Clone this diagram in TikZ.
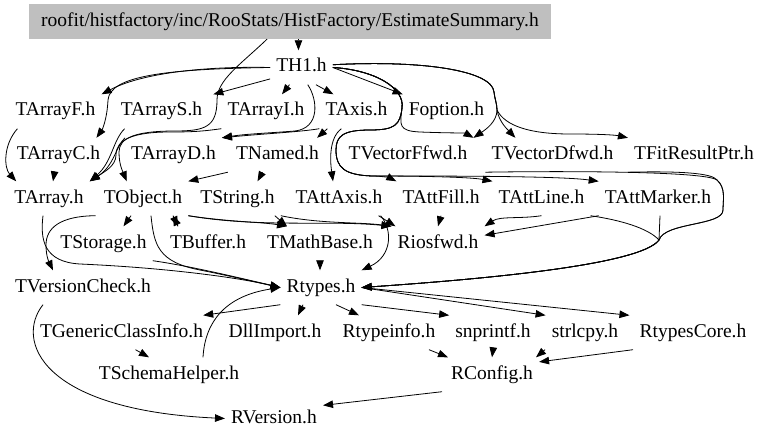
\documentclass[tikz,border=0pt]{standalone}
\usepackage{fontspec}
\setmainfont{Liberation Serif}
\usetikzlibrary{arrows.meta}
\definecolor{boxgray}{RGB}{191,191,191}
\tikzset{
  hdr/.style={anchor=base, inner xsep=6pt, inner ysep=0pt, text height=14pt, text depth=5pt,
    minimum height=34pt, font=\fontsize{19.5}{23}\selectfont},
  dep/.style={-{Triangle[length=10pt,width=7.5pt]}, line width=0.8pt},
}
\begin{document}
\begin{tikzpicture}[x=1pt, y=-1pt]
\useasboundingbox (0,0) rectangle (768,441);
\node[fill=boxgray, minimum width=522pt, minimum height=35pt, inner sep=0pt, font=\fontsize{19.5}{23}\selectfont] (root) at (290,21.5) {roofit/histfactory/inc/RooStats/HistFactory/EstimateSummary.h};
\node[hdr] (th1) at (301.5,72) {TH1.h};
\foreach \n/\x/\t in {tarrayf/55.5/TArrayF.h, tarrays/161.5/TArrayS.h, tarrayi/266/TArrayI.h, taxis/356.5/TAxis.h, foption/446.5/Foption.h}
  \node[hdr] (\n) at (\x,116) {\t};
\foreach \n/\x/\t in {tarrayc/58.5/TArrayC.h, tarrayd/173.5/TArrayD.h, tnamed/277.5/TNamed.h, tvectorffwd/408/TVectorFfwd.h, tvectordfwd/552.5/TVectorDfwd.h, tfitresultptr/694/TFitResultPtr.h}
  \node[hdr] (\n) at (\x,159.5) {\t};
\foreach \n/\x/\t in {tarray/49/TArray.h, tobject/143/TObject.h, tstring/237.5/TString.h, tattaxis/339/TAttAxis.h, tattfill/441/TAttFill.h, tattline/541.5/TAttLine.h, tattmarker/658/TAttMarker.h}
  \node[hdr] (\n) at (\x,203) {\t};
\foreach \n/\x/\t in {tstorage/103.5/TStorage.h, tbuffer/208/TBuffer.h, tmathbase/320/TMathBase.h, riosfwd/438/Riosfwd.h}
  \node[hdr] (\n) at (\x,248) {\t};
\node[hdr] (tversioncheck) at (83,292) {TVersionCheck.h};
\node[hdr] (rtypes) at (321,292) {Rtypes.h};
\foreach \n/\x/\t in {tgenericclassinfo/121.5/TGenericClassInfo.h, dllimport/275/DllImport.h, rtypeinfo/389/Rtypeinfo.h, snprintf/493/snprintf.h, strlcpy/585/strlcpy.h, rtypescore/693/RtypesCore.h}
  \node[hdr] (\n) at (\x,337) {\t};
\node[hdr] (tschemahelper) at (169,379) {TSchemaHelper.h};
\node[hdr] (rconfig) at (492,379) {RConfig.h};
\node[hdr] (rversion) at (274,423) {RVersion.h};

\draw[dep] (root.south -| th1.100) -- (th1.100);
\draw[dep] ([xshift=-23pt]root.south) .. controls (240,65) and (217,80) .. (217,100) .. controls (217,127) and (205,131) .. (175,131) .. controls (135,131) and (119,138) .. (119,152) .. controls (119,165) and (123,172) .. ([xshift=29pt]tobject.north west);

\draw[dep] (th1.west) .. controls (200,66) and (140,74) .. (tarrayf.north east);
\draw[dep] (th1.west) .. controls (165,69) and (110,76) .. (108,100) .. controls (107,120) and (102,130) .. ([xshift=-10pt]tarrayc.north east);
\draw[dep] (th1.200) -- ([xshift=5pt]tarrays.north east);
\draw[dep] (th1.235) -- ([xshift=16pt]tarrayi.north);
\draw[dep] (th1.310) -- ([xshift=14pt]taxis.north west);
\draw[dep] (th1.east) -- (foption.north west);
\draw[dep] (th1.290) .. controls (318,100) and (320,128) .. (295,131) .. controls (270,133) and (245,134) .. (tarrayd.north east);
\draw[dep] (th1.east) .. controls (375,70) and (405,88) .. (402,108) .. controls (400,125) and (398,131) .. (420,132) .. controls (445,133) and (465,133) .. (tvectorffwd.north east);
\draw[dep] (th1.east) .. controls (375,70) and (405,88) .. (402,108) .. controls (400,125) and (395,130) .. (370,130) .. controls (343,130) and (336,136) .. (336,150) .. controls (336,168) and (345,175) .. (372,176) .. controls (382,176) and (390,178) .. (tattfill.north west);
\draw[dep] (th1.east) .. controls (375,70) and (405,88) .. (402,108) .. controls (400,125) and (395,130) .. (370,130) .. controls (343,130) and (336,136) .. (336,150) .. controls (336,168) and (345,175) .. (372,176) .. controls (420,176) and (470,177) .. (tattline.north west);
\draw[dep] (th1.east) .. controls (375,70) and (405,88) .. (402,108) .. controls (400,125) and (395,130) .. (370,130) .. controls (343,130) and (336,136) .. (336,150) .. controls (336,168) and (345,175) .. (372,176) .. controls (450,176) and (560,176) .. (tattmarker.north west);
\draw[dep] (th1.5) .. controls (420,60) and (492,70) .. (494,92) .. controls (495,100) and (497,104) .. (497,110) .. controls (497,122) and (485,130) .. (tvectorffwd.north east);
\draw[dep] (th1.5) .. controls (420,60) and (492,70) .. (494,92) .. controls (495,100) and (497,104) .. (497,110) .. controls (499,122) and (508,130) .. ([xshift=30pt]tvectordfwd.north west);
\draw[dep] (th1.5) .. controls (420,60) and (492,70) .. (494,92) .. controls (495,100) and (497,104) .. (497,110) .. controls (505,126) and (530,134) .. (570,134) .. controls (600,134) and (615,135) .. (tfitresultptr.north west);

\draw[dep] (taxis.south west) .. controls (300,132) and (260,134) .. (tarrayd.north east);
\draw[dep] ([xshift=8pt]taxis.south west) -- ([xshift=-8pt]tnamed.north east);
\draw[dep] ([xshift=22pt]taxis.south west) .. controls (329,138) and (330,160) .. ([xshift=-6pt]tattaxis.north);

\draw[dep] ([xshift=8pt]tarrayf.south west) .. controls (3,145) and (4,168) .. ([xshift=8pt]tarray.north west);
\draw[dep] ([xshift=-4pt]tarrayc.south) -- ([xshift=4pt]tarray.north);
\draw[dep] ([xshift=10pt]tarrays.south west) .. controls (113,140) and (112,162) .. (tarray.north east);
\draw[dep] (tarrayi.south west) .. controls (205,131) and (195,132) .. (170,132) .. controls (132,132) and (116,140) .. (116,155) .. controls (116,166) and (104,172) .. (tarray.north east);
\draw[dep] (tarrayd.north west) .. controls (116,146) and (114,166) .. (tarray.north east);

\draw[dep] ([xshift=-2pt]tnamed.south west) -- (tobject.north east);
\draw[dep] ([xshift=-15pt]tnamed.south) -- ([xshift=20pt]tstring.north);

\draw[dep] ([xshift=-2pt]tobject.south west) .. controls (60,216) and (46,228) .. (46,245) .. controls (46,258) and (50,264) .. ([xshift=-30pt]tversioncheck.north);
\draw[dep] ([xshift=-12pt]tobject.south) -- ([xshift=20pt]tstorage.north);
\draw[dep] ([xshift=30pt]tobject.south) -- ([xshift=-30pt]tbuffer.north);
\draw[dep] ([xshift=-30pt]tbuffer.north) -- ([xshift=30pt]tobject.south);
\draw[dep] ([xshift=8pt]tobject.south) .. controls (154,245) and (158,262) .. (200,270) .. controls (230,276) and (260,283) .. (rtypes.west);
\draw[dep] (tobject.south east) .. controls (230,222) and (262,222) .. ([xshift=26pt]tmathbase.north west);
\draw[dep] (tobject.south east) .. controls (260,228) and (330,220) .. (riosfwd.north west);
\draw[dep] ([xshift=-6pt]tarray.south) .. controls (40,240) and (44,262) .. (80,264) .. controls (170,268) and (240,278) .. (rtypes.west);
\draw[dep] (tstorage.south east) .. controls (190,266) and (240,278) .. (rtypes.west);

\draw[dep] ([xshift=-6pt]tstring.south east) -- ([xshift=26pt]tmathbase.north west);
\draw[dep] (tstring.south east) .. controls (320,224) and (360,222) .. (riosfwd.north west);
\draw[dep] ([xshift=-10pt]tattaxis.south east) -- ([xshift=4pt]riosfwd.north west);
\draw[dep] ([xshift=-8pt]tattaxis.south east) .. controls (393,230) and (392,256) .. (rtypes.north east);
\draw[dep] (tattfill.south) -- (riosfwd.north);
\draw[dep] (tattline.south) .. controls (520,219) and (500,216) .. (riosfwd.north east);
\draw[dep] (tattmarker.south west) -- (riosfwd.10);
\draw[dep] (tattline.south east) .. controls (620,220) and (648,228) .. (659,240) .. controls (640,266) and (470,280) .. (rtypes.east);
\draw[dep] ([xshift=2pt]tattmarker.south) -- (659,240) .. controls (640,266) and (470,280) .. (rtypes.east);
\draw[dep] (tvectordfwd.south west) .. controls (560,171) and (705,171) .. (717,180) .. controls (726,188) and (723,200) .. (723,210) .. controls (723,226) and (665,222) .. (659,240) .. controls (640,266) and (470,280) .. (rtypes.east);
\draw[dep] (tfitresultptr.south west) .. controls (680,171) and (712,173) .. (717,180) .. controls (726,188) and (723,200) .. (723,210) .. controls (723,226) and (665,222) .. (659,240) .. controls (640,266) and (470,280) .. (rtypes.east);
\draw[dep] (tmathbase.south) -- (rtypes.north -| tmathbase.south);

\draw[dep] (rtypes.south west) -- ([xshift=-6pt]tgenericclassinfo.north east);
\draw[dep] ([xshift=-18pt]rtypes.south) -- ([xshift=23pt]dllimport.north);
\draw[dep] ([xshift=15pt]rtypes.south) -- ([xshift=-30pt]rtypeinfo.north);
\draw[dep] (rtypes.south east) -- (snprintf.north west);
\draw[dep] (rtypes.east) -- (strlcpy.north west);
\draw[dep] (rtypes.east) -- ([xshift=-4pt]rtypescore.north west);

\draw[dep] ([xshift=14pt]tgenericclassinfo.south) -- ([xshift=-20pt]tschemahelper.north);
\draw[dep] ([xshift=34pt]tschemahelper.north) .. controls (205,322) and (225,296) .. (rtypes.west);
\draw[dep] ([xshift=-40pt]tversioncheck.south) .. controls (15,340) and (40,410) .. (rversion.west);
\draw[dep] ([xshift=40pt]rtypeinfo.south) -- ([xshift=-44pt]rconfig.north);
\draw[dep] (snprintf.south) -- (rconfig.north);
\draw[dep] ([xshift=-40pt]strlcpy.south) -- ([xshift=44pt]rconfig.north);
\draw[dep] ([xshift=-60pt]rtypescore.south) -- (rconfig.15);
\draw[dep] ([xshift=-50pt]rconfig.south) -- (rversion.15);
\end{tikzpicture}
\end{document}
